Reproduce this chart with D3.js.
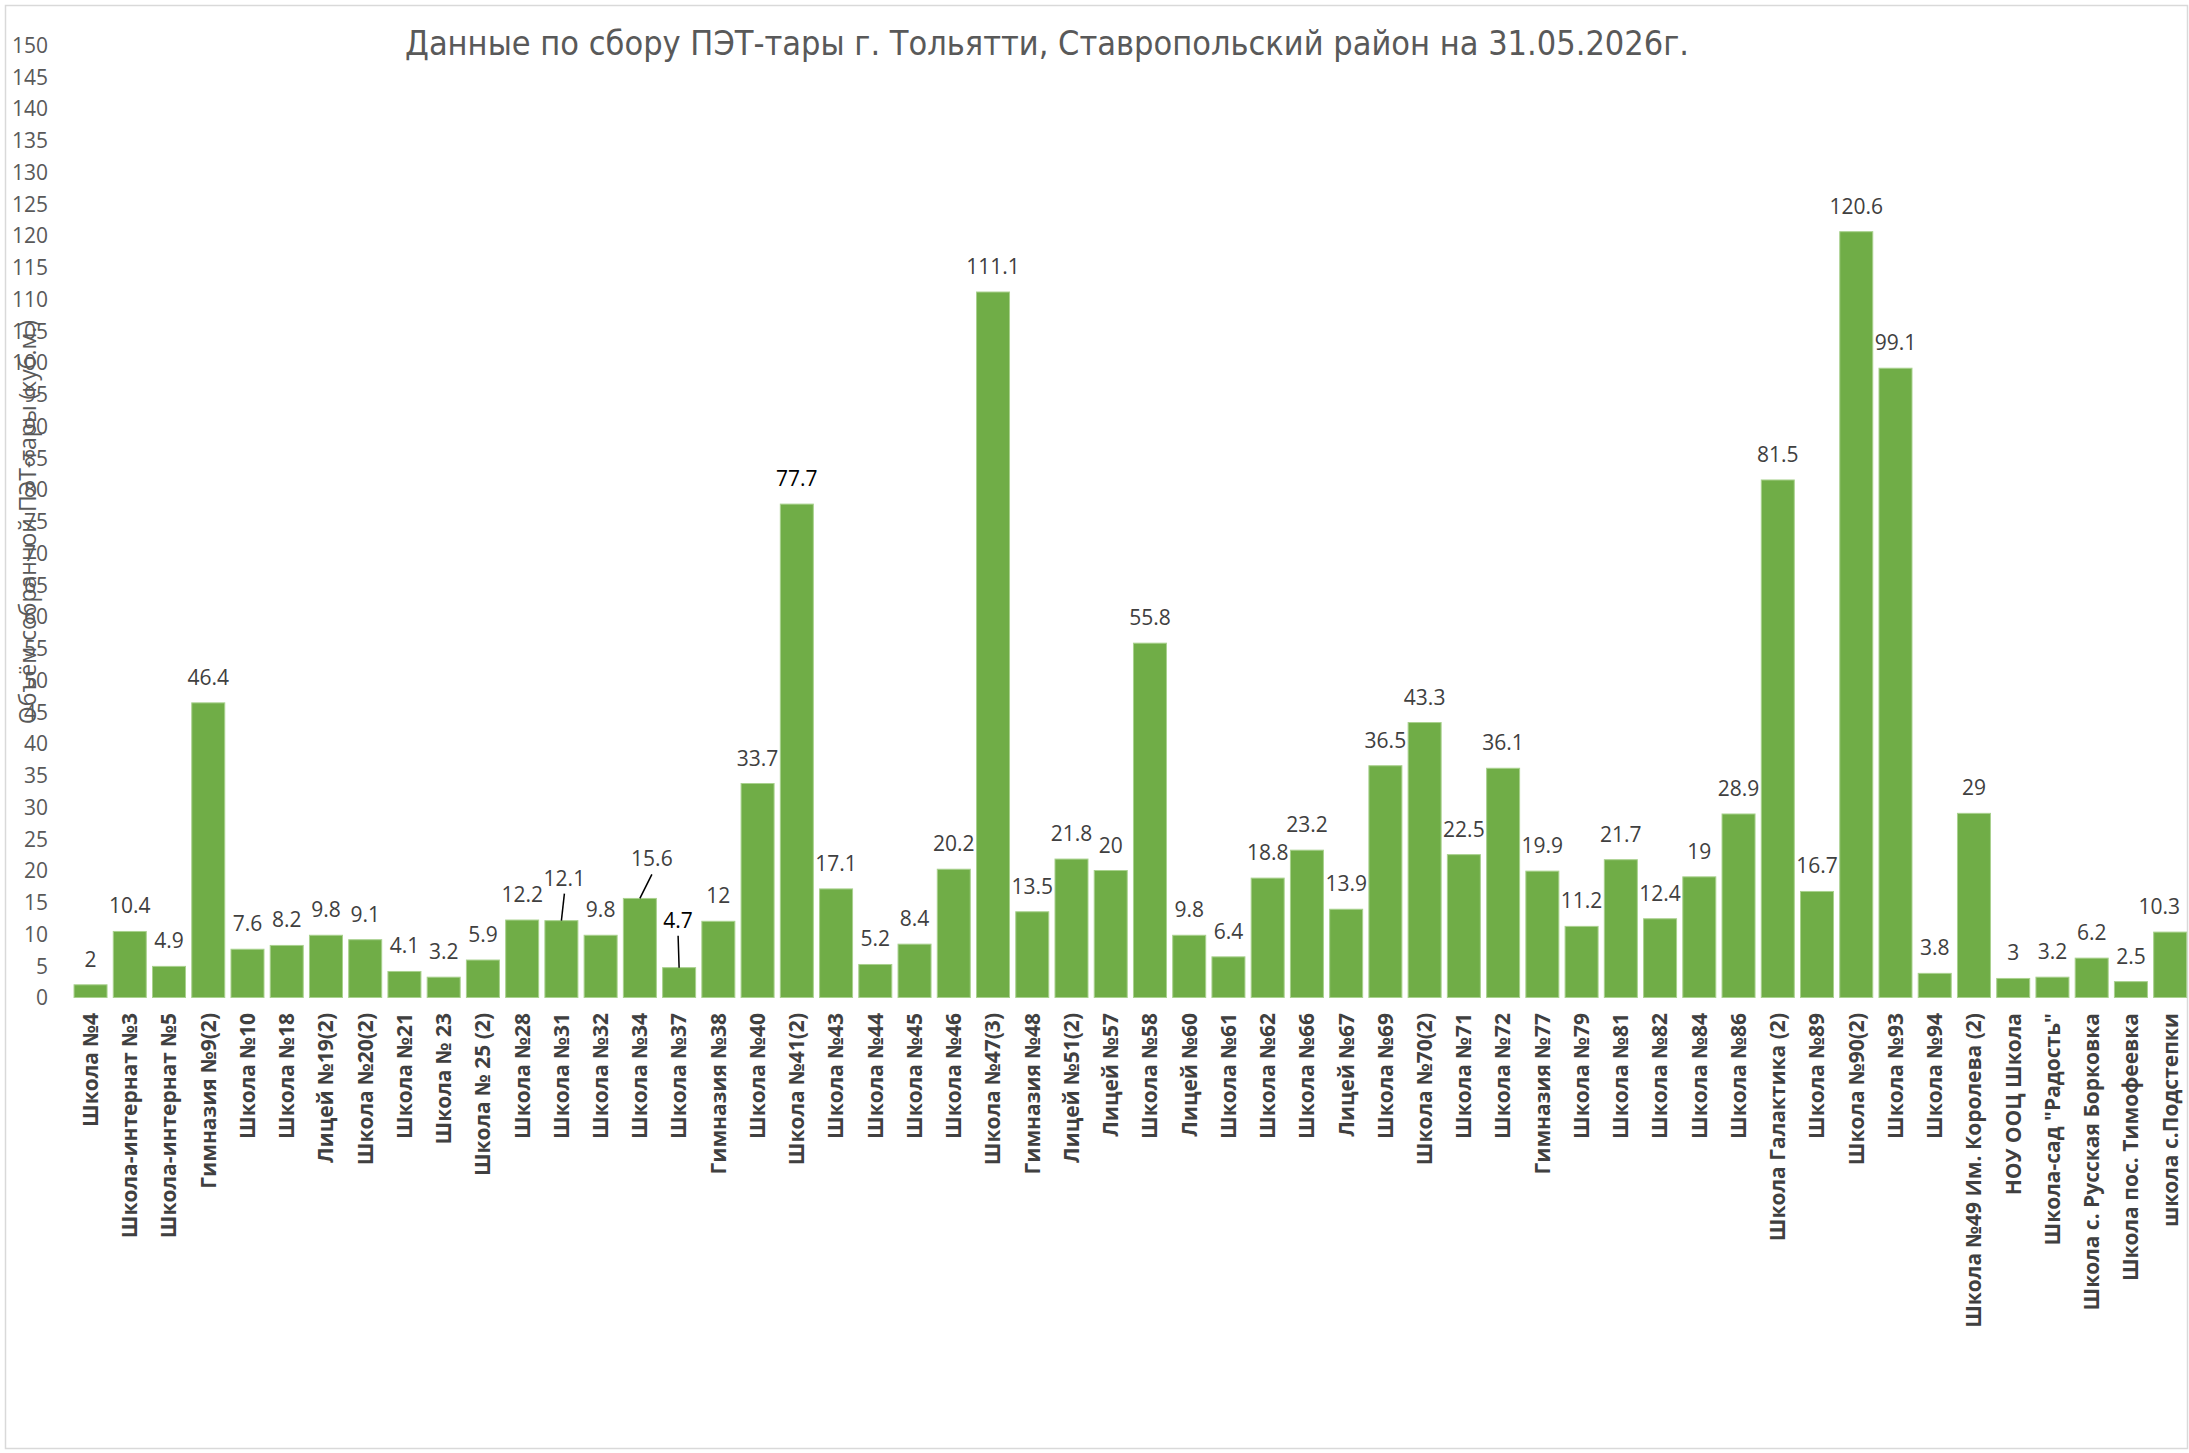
<!DOCTYPE html>
<meta charset="utf-8">
<style>
body { margin: 0; background: #fff; }
text { font-family: "Open Sans", sans-serif; }
.tick text { font-size: 21px; fill: #595959; }
.value { font-size: 21px; fill: #404040; }
.cat { font-size: 21px; font-weight: bold; fill: #404040; }
</style>
<svg width="2189" height="1453"></svg>
<script src="https://d3js.org/d3.v7.min.js"></script>
<script>

var schools = ["Школа №4", "Школа-интернат №3", "Школа-интернат №5", "Гимназия №9(2)", "Школа №10", "Школа №18",
  "Лицей №19(2)", "Школа №20(2)", "Школа №21", "Школа № 23", "Школа № 25 (2)", "Школа №28", "Школа №31",
  "Школа №32", "Школа №34", "Школа №37", "Гимназия №38", "Школа №40", "Школа №41(2)", "Школа №43",
  "Школа №44", "Школа №45", "Школа №46", "Школа №47(3)", "Гимназия №48", "Лицей №51(2)", "Лицей №57",
  "Школа №58", "Лицей №60", "Школа №61", "Школа №62", "Школа №66", "Лицей №67", "Школа №69",
  "Школа №70(2)", "Школа №71", "Школа №72", "Гимназия №77", "Школа №79", "Школа №81", "Школа №82",
  "Школа №84", "Школа №86", "Школа Галактика (2)", "Школа №89", "Школа №90(2)", "Школа №93",
  "Школа №94", "Школа №49 Им. Королева (2)", "НОУ ООЦ Школа", "Школа-сад \"Радость\"",
  "Школа с. Русская Борковка", "Школа пос. Тимофеевка", "школа с.Подстепки"];

var volumes = [2, 10.4, 4.9, 46.4, 7.6, 8.2, 9.8, 9.1, 4.1, 3.2, 5.9, 12.2, 12.1, 9.8, 15.6, 4.7, 12,
  33.7, 77.7, 17.1, 5.2, 8.4, 20.2, 111.1, 13.5, 21.8, 20, 55.8, 9.8, 6.4, 18.8, 23.2, 13.9, 36.5,
  43.3, 22.5, 36.1, 19.9, 11.2, 21.7, 12.4, 19, 28.9, 81.5, 16.7, 120.6, 99.1, 3.8, 29, 3, 3.2,
  6.2, 2.5, 10.3];

var yTicks = d3.range(0, 151, 5);

var chartTitle = "Данные по сбору ПЭТ-тары г. Тольятти, Ставропольский район на 31.05.2026г.";
var axisTitle = "Объём собранной ПЭТ-тары (куб.м.)";

// labels that were dragged away from their bars (px offsets, with a leader line)
var moved = {
  "Школа №31": { dx: 3, dy: -17, line: true },
  "Школа №34": { dx: 12, dy: -14, line: true },
  "Школа №37": { dx: -1, dy: -22, line: true, dark: true },
  "Школа №41(2)": { dx: 0, dy: 0, dark: true },
  "школа с.Подстепки": { dx: -11, dy: 0 }
};

var svg = d3.select("svg");

svg.append("rect")
    .attr("x", 5.5).attr("y", 5.5)
    .attr("width", 2182).attr("height", 1443)
    .attr("fill", "#fff").attr("stroke", "#d9d9d9").attr("stroke-width", 1.5);

var x = d3.scaleBand()
    .domain(schools)
    .range([70.9, 2189.8])
    .paddingInner(0.159)
    .paddingOuter(0.08);

var y = d3.scaleLinear()
    .domain([0, 150])
    .range([997.5, 45]);

var data = schools.map(function(s, i) { return { name: s, value: volumes[i] }; });

// y axis, no line and no tick marks
var yAxis = svg.append("g")
    .attr("transform", "translate(48,0)")
    .call(d3.axisLeft(y).tickValues(yTicks).tickSize(0).tickPadding(0).tickFormat(d3.format("d")));
yAxis.select(".domain").remove();
yAxis.selectAll("text").attr("dy", "0.35em");

svg.append("text")
    .attr("transform", "translate(28,522) rotate(-90)")
    .attr("text-anchor", "middle")
    .attr("dy", "0.35em")
    .style("font-size", "23px")
    .style("fill", "#595959")
    .text(axisTitle);

svg.append("g")
  .selectAll("rect")
  .data(data)
  .enter().append("rect")
    .attr("x", function(d) { return x(d.name); })
    .attr("y", function(d) { return y(d.value); })
    .attr("width", x.bandwidth())
    .attr("height", function(d) { return y(0) - y(d.value); })
    .attr("fill", "#70ad47")
    .attr("stroke", "#a9d18e")
    .attr("stroke-width", 1);

var labels = svg.append("g")
  .selectAll("g")
  .data(data)
  .enter().append("g");

labels.append("text")
    .attr("class", "value")
    .attr("text-anchor", "middle")
    .attr("x", function(d) { var m = moved[d.name]; return x(d.name) + x.bandwidth() / 2 + (m ? m.dx : 0); })
    .attr("y", function(d) { var m = moved[d.name]; return y(d.value) - 18 + (m ? m.dy : 0); })
    .style("fill", function(d) { var m = moved[d.name]; return m && m.dark ? "#000" : null; })
    .text(function(d) { return d.value; });

labels.filter(function(d) { return moved[d.name] && moved[d.name].line; })
  .append("line")
    .attr("x1", function(d) { return x(d.name) + x.bandwidth() / 2 + moved[d.name].dx; })
    .attr("y1", function(d) { return y(d.value) - 18 + moved[d.name].dy + 8; })
    .attr("x2", function(d) { return x(d.name) + x.bandwidth() / 2; })
    .attr("y2", function(d) { return y(d.value); })
    .attr("stroke", "#000")
    .attr("stroke-width", 1.5);

svg.append("g")
  .selectAll("text")
  .data(schools)
  .enter().append("text")
    .attr("class", "cat")
    .attr("text-anchor", "end")
    .attr("dy", "0.35em")
    .attr("transform", function(d) { return "translate(" + (x(d) + x.bandwidth() / 2) + ",1013) rotate(-90)"; })
    .text(function(d) { return d; });

svg.append("text")
    .attr("x", 1047)
    .attr("y", 43)
    .attr("dy", "0.35em")
    .attr("text-anchor", "middle")
    .style("font-family", "'Liberation Sans Narrow', 'DejaVu Sans Condensed', sans-serif")
    .style("font-size", "34px")
    .style("fill", "#595959")
    .text(chartTitle);

</script>
